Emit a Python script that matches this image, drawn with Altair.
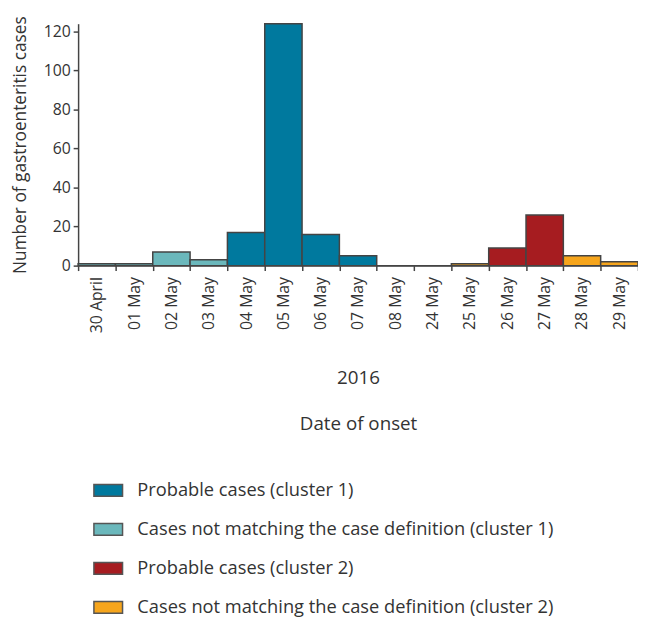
import altair as alt
import pandas as pd

dates = ["30 April", "01 May", "02 May", "03 May", "04 May", "05 May", "06 May", "07 May",
         "08 May", "24 May", "25 May", "26 May", "27 May", "28 May", "29 May"]
cases = [1, 1, 7, 3, 17, 124, 16, 5, 0, 0, 1, 9, 26, 5, 2]
groups = ["Cases not matching the case definition (cluster 1)",
          "Cases not matching the case definition (cluster 1)",
          "Cases not matching the case definition (cluster 1)",
          "Cases not matching the case definition (cluster 1)",
          "Probable cases (cluster 1)", "Probable cases (cluster 1)",
          "Probable cases (cluster 1)", "Probable cases (cluster 1)",
          "Probable cases (cluster 1)", "Probable cases (cluster 2)",
          "Cases not matching the case definition (cluster 2)",
          "Probable cases (cluster 2)", "Probable cases (cluster 2)",
          "Cases not matching the case definition (cluster 2)",
          "Cases not matching the case definition (cluster 2)"]
legend_order = ["Probable cases (cluster 1)",
                "Cases not matching the case definition (cluster 1)",
                "Probable cases (cluster 2)",
                "Cases not matching the case definition (cluster 2)"]
colors = ["#00799e", "#6bb8bc", "#a61c20", "#f6a51c"]

df = pd.DataFrame({"date": dates, "cases": cases, "group": groups})

FONT = "Open Sans"

chart = alt.Chart(df).mark_bar(stroke="#444444", strokeWidth=1.5).encode(
    x=alt.X("date:N", sort=dates,
            scale=alt.Scale(paddingInner=0, paddingOuter=0),
            axis=alt.Axis(title=["2016", "Date of onset"], labelAngle=-90,
                          tickBand="extent", labelFontSize=16, labelColor="#333333",
                          titleFontSize=19, titleFontWeight="normal", titleColor="#333333",
                          titleLineHeight=47, titlePadding=36, labelPadding=6,
                          domainColor="#444444", tickColor="#444444", tickSize=5,
                          domainWidth=1.5, tickWidth=1.5)),
    y=alt.Y("cases:Q", stack=None, scale=alt.Scale(domain=[0, 124], nice=False),
            axis=alt.Axis(title="Number of gastroenteritis cases", values=[0, 20, 40, 60, 80, 100, 120],
                          grid=False, labelFontSize=16, labelColor="#333333",
                          titleFontSize=17.5, titleFontWeight="normal", titleColor="#333333",
                          titlePadding=14, labelPadding=3, domainColor="#444444", tickColor="#444444",
                          tickSize=5, domainWidth=1.5, tickWidth=1.5)),
    color=alt.Color("group:N", scale=alt.Scale(domain=legend_order, range=colors),
                    legend=alt.Legend(title=None, orient="none", legendX=15, legendY=457,
                                      direction="vertical",
                                      symbolType="M-1,-0.41H1V0.41H-1Z", symbolSize=841,
                                      symbolStrokeColor="#555555", symbolStrokeWidth=1.5,
                                      symbolOpacity=1,
                                      labelFontSize=18.5, labelColor="#333333",
                                      labelOffset=14, rowPadding=14.5, labelLimit=600)),
).properties(
    width=567, height=245,
    autosize=alt.AutoSizeParams(type="none"),
    padding={"left": 71, "top": 12, "right": 0, "bottom": 356},
).configure(font=FONT).configure_view(stroke=None)

chart.save("out.html", embed_options={"renderer": "svg", "actions": False})
